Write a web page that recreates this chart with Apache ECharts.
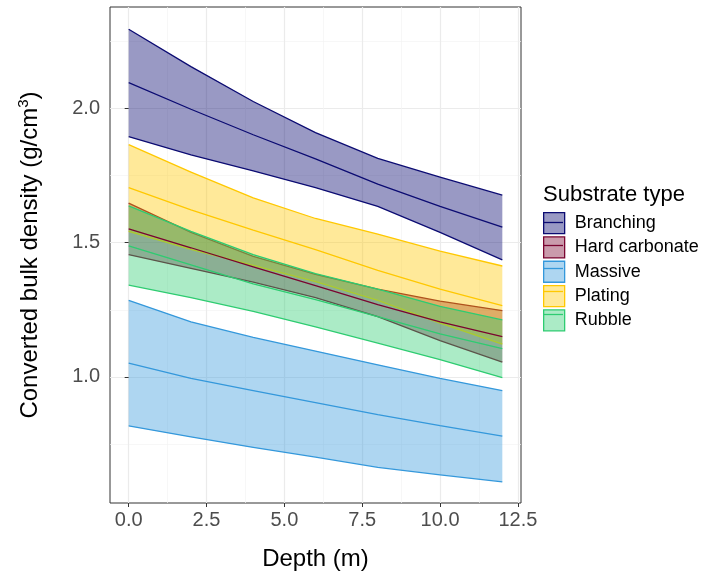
<!DOCTYPE html>
<html>
<head>
<meta charset="utf-8">
<script src="https://cdn.jsdelivr.net/npm/echarts@6/dist/echarts.min.js"></script>
<style>
  html, body { margin: 0; padding: 0; background: #fff; }
  #chart { width: 704px; height: 576px; }
</style>
</head>
<body>
<div id="chart"></div>
<script>
// depth (m)
var depth = [0, 2, 4, 6, 8, 10, 12];

// ribbons: lower / fitted / upper
var branchingLo = [1.895, 1.827, 1.767, 1.705, 1.635, 1.538, 1.436];
var branchingMid = [2.096, 1.997, 1.902, 1.812, 1.718, 1.635, 1.558];
var branchingHi = [2.295, 2.156, 2.026, 1.910, 1.814, 1.744, 1.677];

var hardLo = [1.455, 1.404, 1.353, 1.295, 1.224, 1.135, 1.055];
var hardMid = [1.551, 1.481, 1.410, 1.340, 1.269, 1.205, 1.150];
var hardHi = [1.647, 1.538, 1.449, 1.382, 1.327, 1.282, 1.247];

var massiveLo = [0.817, 0.776, 0.737, 0.701, 0.663, 0.635, 0.609];
var massiveMid = [1.051, 0.994, 0.949, 0.904, 0.859, 0.818, 0.779];
var massiveHi = [1.285, 1.205, 1.147, 1.096, 1.045, 0.994, 0.949];

var platingLo = [1.542, 1.475, 1.415, 1.355, 1.285, 1.200, 1.122];
var platingMid = [1.705, 1.622, 1.547, 1.474, 1.397, 1.327, 1.265];
var platingHi = [1.865, 1.763, 1.667, 1.590, 1.532, 1.468, 1.413];

var rubbleLo = [1.342, 1.295, 1.244, 1.186, 1.126, 1.064, 0.997];
var rubbleMid = [1.488, 1.417, 1.346, 1.288, 1.224, 1.160, 1.105];
var rubbleHi = [1.637, 1.542, 1.455, 1.385, 1.327, 1.263, 1.212];

var groups = ["Branching", "Hard carbonate", "Massive", "Plating", "Rubble"];
var colors = ["#0b0b72", "#7a0430", "#3498db", "#ffc800", "#2ecc71"];
var fills = ["rgba(11,11,114,0.42)", "rgba(122,4,48,0.4)", "rgba(52,152,219,0.4)",
             "rgba(255,200,0,0.4)", "rgba(46,204,113,0.4)"];

var xTicks = [0, 2.5, 5, 7.5, 10, 12.5];
var xMinor = [1.25, 3.75, 6.25, 8.75, 11.25];
var yTicks = [1.0, 1.5, 2.0];
var yMinor = [0.75, 1.25, 1.75, 2.25];

var lows = [branchingLo, hardLo, massiveLo, platingLo, rubbleLo];
var mids = [branchingMid, hardMid, massiveMid, platingMid, rubbleMid];
var highs = [branchingHi, hardHi, massiveHi, platingHi, rubbleHi];

var n = depth.length;
var xDims = [], yDims = [];
for (var i = 0; i < n; i++) { xDims.push(i); yDims.push(n + i, 2 * n + i); }

function ribbonItem(params, api) {
  var lo = [], hi = [];
  for (var i = 0; i < n; i++) {
    var x = api.value(i);
    lo.push(api.coord([x, api.value(n + i)]));
    hi.push(api.coord([x, api.value(2 * n + i)]));
  }
  var col = colors[params.seriesIndex];
  var poly = lo.concat(hi.slice().reverse());
  return {
    type: "group",
    children: [
      { type: "polygon", shape: { points: poly }, style: { fill: fills[params.seriesIndex], stroke: null } },
      { type: "polyline", shape: { points: lo }, style: { stroke: col, lineWidth: 1.3, fill: null } },
      { type: "polyline", shape: { points: hi }, style: { stroke: col, lineWidth: 1.3, fill: null } }
    ]
  };
}

var series = [];
// ribbons first, each with its outline
groups.forEach(function (g, k) {
  series.push({
    name: g,
    type: "custom",
    silent: true,
    clip: false,
    itemStyle: { color: colors[k] },
    renderItem: ribbonItem,
    encode: { x: xDims, y: yDims },
    data: [depth.concat(lows[k], highs[k])]
  });
});
// fitted lines on top
groups.forEach(function (g, k) {
  series.push({
    name: g + "_mid",
    type: "line",
    symbol: "none",
    silent: true,
    lineStyle: { color: colors[k], width: 1.3 },
    data: depth.map(function (d, i) { return [d, mids[k][i]]; })
  });
});

var gridColor = "#ebebeb";
var chart = echarts.init(document.getElementById("chart"));

var legendTop = 212, keySize = 21, legendGap = 2, legendLeft = 543;
var keyLines = groups.map(function (g, k) {
  var cy = legendTop + k * (keySize + legendGap) + keySize / 2;
  return {
    type: "line",
    shape: { x1: legendLeft + 1, y1: cy, x2: legendLeft + keySize - 1, y2: cy },
    style: { stroke: colors[k], lineWidth: 1.3 },
    z: 100
  };
});

chart.setOption({
  animation: false,
  textStyle: { fontFamily: "Liberation Sans, Arial, sans-serif" },
  grid: {
    left: 110, right: 183, top: 7, bottom: 72,
    show: true, borderColor: "#333", borderWidth: 1, backgroundColor: "transparent"
  },
  title: {
    text: "Substrate type",
    left: 543, top: 184,
    padding: 0,
    textStyle: { fontSize: 22, fontWeight: "normal", color: "#000" }
  },
  legend: {
    orient: "vertical",
    left: legendLeft, top: legendTop,
    padding: 0,
    icon: "rect",
    itemWidth: keySize, itemHeight: keySize,
    itemGap: legendGap,
    selectedMode: false,
    textStyle: { fontSize: 18, color: "#000", padding: [0, 0, 0, 5] },
    data: groups.map(function (g, k) {
      return { name: g, itemStyle: { color: fills[k], borderColor: colors[k], borderWidth: 1.3 } };
    })
  },
  graphic: keyLines,
  xAxis: [{
    type: "value",
    min: -0.6, max: 12.6,
    name: "Depth (m)",
    nameLocation: "middle",
    nameGap: 44,
    nameTextStyle: { fontSize: 24, color: "#000" },
    axisLine: { show: false },
    axisTick: { show: true, length: 4, lineStyle: { color: "#333" }, customValues: xTicks },
    axisLabel: { fontSize: 20, color: "#4d4d4d", margin: 7, customValues: xTicks,
      formatter: function (v) { return v.toFixed(1); } },
    splitLine: { show: true, lineStyle: { color: gridColor, width: 1.2 } }
  }, {
    type: "value",
    min: -0.6, max: 12.6,
    position: "bottom",
    axisLine: { show: false },
    axisTick: { show: false, customValues: xMinor },
    axisLabel: { show: false, customValues: xMinor },
    splitLine: { show: true, lineStyle: { color: "#f3f3f3", width: 0.7 } }
  }],
  yAxis: [{
    type: "value",
    min: 0.53, max: 2.378,
    name: "{a|Converted bulk density (g/cm}{s|3}{a|)}",
    nameLocation: "middle",
    nameGap: 68,
    nameTextStyle: {
      color: "#000",
      rich: {
        a: { fontSize: 24, lineHeight: 26, verticalAlign: "bottom", color: "#000" },
        s: { fontSize: 15, lineHeight: 26, verticalAlign: "top", color: "#000" }
      }
    },
    axisLine: { show: false },
    axisTick: { show: true, length: 4, lineStyle: { color: "#333" }, customValues: yTicks },
    axisLabel: { fontSize: 20, color: "#4d4d4d", margin: 10, customValues: yTicks,
      formatter: function (v) { return v.toFixed(1); } },
    splitLine: { show: true, lineStyle: { color: gridColor, width: 1.2 } }
  }, {
    type: "value",
    min: 0.53, max: 2.378,
    axisLine: { show: false },
    axisTick: { show: false, customValues: yMinor },
    axisLabel: { show: false, customValues: yMinor },
    splitLine: { show: true, lineStyle: { color: "#f3f3f3", width: 0.7 } }
  }],
  series: series
});
</script>
</body>
</html>
